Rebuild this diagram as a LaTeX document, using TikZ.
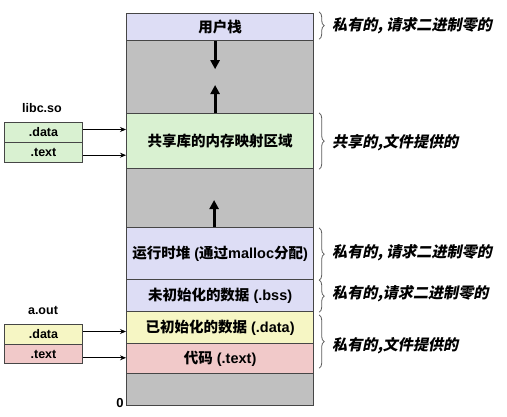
\documentclass[tikz,border=0pt]{standalone}
\usepackage{fontspec}
\setmainfont{Liberation Sans}
\newfontfamily\cj{Noto Sans CJK SC}
\newfontfamily\cjit[FakeSlant=0.2,BoldFeatures={FakeSlant=0.2}]{Noto Sans CJK SC}
\usetikzlibrary{arrows.meta,decorations.pathreplacing}
\newcommand\zh[1]{{\cj #1}}
\definecolor{lav}{RGB}{221,221,245}
\definecolor{grayc}{RGB}{192,192,192}
\definecolor{greenc}{RGB}{217,241,209}
\definecolor{yellowc}{RGB}{246,246,196}
\definecolor{pinkc}{RGB}{241,201,201}
\definecolor{bordc}{RGB}{70,70,70}
\definecolor{bracec}{RGB}{90,90,90}
\begin{document}
\begin{tikzpicture}[x=1pt,y=-1pt,
  seg/.style={draw=bordc, line width=1.2pt, minimum width=187pt, inner sep=0pt, anchor=north west,
    font=\bfseries\fontsize{14.5}{16}\selectfont},
  sbox/.style={draw=bordc, line width=1pt, minimum width=78pt, inner sep=0pt, anchor=north west,
    font=\bfseries\fontsize{12.5}{14}\selectfont},
  lbl/.style={font=\bfseries\fontsize{12.5}{14}\selectfont, inner sep=0pt},
  bigarr/.style={line width=3pt, -{Triangle[width=9pt,length=9pt]}},
  thinarr/.style={line width=0.8pt, -{Stealth[length=6pt,width=5pt]}},
  brc/.style={draw=bracec, line width=0.8pt, decorate, decoration={brace, amplitude=5pt}},
  note/.style={anchor=west, inner sep=0pt, font=\cjit\bfseries\fontsize{15.1}{17}\selectfont}]
\useasboundingbox (0,0) rectangle (507,416);

% main column
\node[seg, fill=lav,    minimum height=27pt] (stack)  at (126,13)  {\zh{用户栈}};
\node[seg, fill=grayc,  minimum height=73pt] (gapa)   at (126,40)  {};
\node[seg, fill=greenc, minimum height=55pt] (shared) at (126,113) {\zh{共享库的内存映射区域}};
\node[seg, fill=grayc,  minimum height=59pt] (gapb)   at (126,168) {};
\node[seg, fill=lav,    minimum height=52pt] (heap)   at (126,227) {\zh{运行时堆} (\zh{通过}malloc\zh{分配})};
\node[seg, fill=lav,    minimum height=32pt] (bss)    at (126,279) {\zh{未初始化的数据} (.bss)};
\node[seg, fill=yellowc,minimum height=32pt] (data)   at (126,311) {\zh{已初始化的数据} (.data)};
\node[seg, fill=pinkc,  minimum height=30pt] (text)   at (126,343) {\zh{代码} (.text)};
\node[seg, fill=grayc,  minimum height=32pt] (gapc)   at (126,373) {};
\node[lbl, font=\bfseries\fontsize{13}{14}\selectfont] (zero) at (120,403) {0};

% growth arrows
\draw[bigarr] ([xshift=-5pt]stack.south) -- ++(0,28);
\draw[bigarr] ([xshift=-5pt]shared.north) -- ++(0,-28);
\draw[bigarr] ([xshift=-6pt]heap.north) -- ++(0,-27);

% libc.so
\node[lbl] (libc) at (42,108) {libc.so};
\node[sbox, fill=greenc, minimum height=20pt] (ldata) at (4,122) {.data};
\node[sbox, fill=greenc, minimum height=20pt] (ltext) at (4,142) {.text};
\draw[thinarr] ([yshift=3pt]ldata.east) -- ([yshift=3pt]ldata.east -| shared.west);
\draw[thinarr] ([yshift=-2.7pt]ltext.east) -- ([yshift=-2.7pt]ltext.east -| shared.west);

% a.out
\node[lbl] (aout) at (43,310) {a.out};
\node[sbox, fill=yellowc, minimum height=20pt] (adata) at (4,324) {.data};
\node[sbox, fill=pinkc,   minimum height=19pt] (atext) at (4,344) {.text};
\draw[thinarr] ([yshift=3pt]adata.east) -- ([yshift=3pt]adata.east -| data.west);
\draw[thinarr] ([yshift=-3.8pt]atext.east) -- ([yshift=-3.8pt]atext.east -| text.west);

% braces
\draw[brc] ([xshift=5pt,yshift=1pt]stack.north east) -- ([xshift=5pt,yshift=2pt]stack.south east);
\draw[brc] ([xshift=5pt]shared.north east) -- ([xshift=5pt]shared.south east);
\draw[brc] ([xshift=5pt,yshift=-1pt]heap.north east) -- ([xshift=5pt]heap.south east);
\draw[brc] ([xshift=5pt,yshift=-1pt]bss.north east) -- ([xshift=5pt]bss.south east);
\draw[brc] ([xshift=5pt,yshift=-4pt]data.north east) -- ([xshift=5pt,yshift=6pt]text.south east);

% notes
\node[note] (n1) at (332,26)  {私有的, 请求二进制零的};
\node[note] (n2) at (332,143) {共享的,文件提供的};
\node[note] (n3) at (332,253) {私有的, 请求二进制零的};
\node[note] (n4) at (332,294) {私有的,请求二进制零的};
\node[note] (n5) at (332,346) {私有的,文件提供的};
\end{tikzpicture}
\end{document}
